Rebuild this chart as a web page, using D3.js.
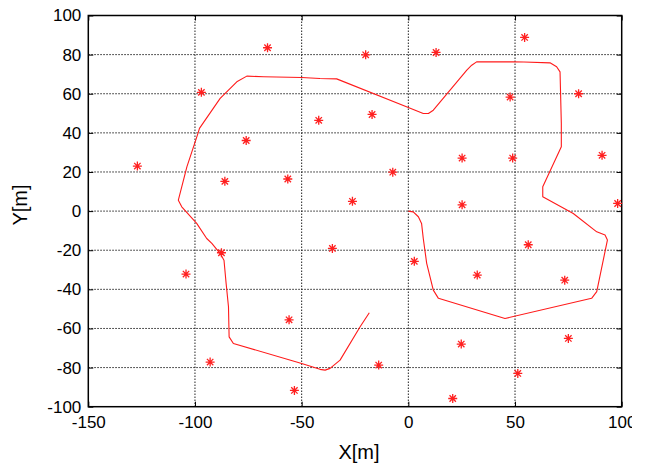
<!DOCTYPE html>
<html>
<head>
<meta charset="utf-8">
<script src="https://cdn.jsdelivr.net/npm/d3@7"></script>
<style>
  body { margin: 0; background: #fff; }
  svg { display: block; }
  .tick text { font-family: "Liberation Sans", Arial, sans-serif; font-size: 17px; fill: #000; }
  .axis-title { font-family: "Liberation Sans", Arial, sans-serif; font-size: 20px; fill: #000; }
</style>
</head>
<body>
<div id="chart"></div>
<script>
// tick labels
var xTicks = [-150, -100, -50, 0, 50, 100];
var yTicks = [-100, -80, -60, -40, -20, 0, 20, 40, 60, 80, 100];

// star markers
var pointX = [-127, -97, -66, -76, -86, -56.5, -42, -20, 13, 54.5, -17, 47.7, 79.8,
  25.2, 48.9, 90.8, -7.3, -26.2, 25.2, 98.1, -87.6, -104.2, -55.9, -92.9, -53.4,
  -35.6, 2.8, 32.3, 56.2, 73.3, 24.8, 75, -13.9, 51.3, 20.8];
var pointY = [23, 60.7, 83.5, 36.1, 15.2, 16.4, 46.4, 79.9, 81.1, 88.8, 49.4, 58.3, 60,
  27.1, 27.1, 28.5, 19.9, 5, 3.2, 3.9, -21.3, -32.2, -55.6, -77.2, -91.7,
  -19.1, -25.7, -32.7, -17.2, -35.3, -68, -65.1, -78.7, -83, -95.8];

// trajectory
var pathX = [0, 2.3, 4.7, 6.2, 7.0, 8.6, 11.7, 14.1, 45.3, 85.9, 88.3, 93.3, 92.2, 88.3,
  77.3, 63, 63, 71.7, 71.7, 71.1, 69.5, 66.4, 54.2, 48.9, 32.0, 29.7, 27.4, 11.7, 9.4,
  7.0, 0, -33.6, -41.4, -50, -67.9, -75.7, -80.4, -88.2, -97.9, -98.6, -103.8, -107.8,
  -106.2, -99.2, -94.5, -92.1, -88, -86.4, -85.4, -84.3, -84.0, -82.0, -50, -41.4, -39,
  -36.7, -32.0, -22.6, -18.3];
var pathY = [0, -0.4, -2.9, -6.3, -14, -26.7, -40.4, -44.6, -54.9, -44.6, -41.2, -14.8, -12.2, -10.6,
  -1.2, 7.3, 12.4, 32.9, 44.9, 71.2, 73.8, 75.8, 76.2, 76.3, 76.3, 74.6, 72.1, 51.6, 49.9,
  49.9, 53, 67.6, 67.8, 68.3, 68.7, 69.0, 66.1, 57.6, 42.3, 39.7, 22.6, 5.6,
  2.2, -6.3, -14.0, -16.5, -22, -25.1, -37.0, -48.9, -64.3, -67.7, -77.9, -80.9, -81.3,
  -80.4, -76.2, -59.1, -52.0];

var svgWidth = 632;
var svgHeight = 467;
var margin = { top: 15.5, right: 10.3, bottom: 60.3, left: 88.3 };
var width = svgWidth - margin.left - margin.right;
var height = svgHeight - margin.top - margin.bottom;

var svg = d3.select("#chart").append("svg")
  .attr("width", svgWidth)
  .attr("height", svgHeight);

var chartGroup = svg.append("g")
  .attr("transform", `translate(${margin.left}, ${margin.top})`);

var xScale = d3.scaleLinear().domain([-150, 100]).range([0, width]);
var yScale = d3.scaleLinear().domain([-100, 100]).range([height, 0]);

// dotted grid
chartGroup.append("g")
  .selectAll("line")
  .data(xTicks.slice(1, -1))
  .enter()
  .append("line")
  .attr("x1", d => xScale(d)).attr("x2", d => xScale(d))
  .attr("y1", 0).attr("y2", height)
  .attr("stroke", "#222")
  .attr("stroke-dasharray", "1.5,1.5");

chartGroup.append("g")
  .selectAll("line")
  .data(yTicks.slice(1, -1))
  .enter()
  .append("line")
  .attr("x1", 0).attr("x2", width)
  .attr("y1", d => yScale(d)).attr("y2", d => yScale(d))
  .attr("stroke", "#222")
  .attr("stroke-dasharray", "1.5,1.5");

// axes with inward ticks
var fmt = d => String(d);

var bottomAxis = d3.axisBottom(xScale).tickValues(xTicks).tickFormat(fmt).tickSizeInner(-5).tickSizeOuter(0).tickPadding(9);
var leftAxis = d3.axisLeft(yScale).tickValues(yTicks).tickFormat(fmt).tickSizeInner(-5).tickSizeOuter(0).tickPadding(7);
var topAxis = d3.axisTop(xScale).tickValues(xTicks).tickFormat("").tickSizeInner(-5).tickSizeOuter(0);
var rightAxis = d3.axisRight(yScale).tickValues(yTicks).tickFormat("").tickSizeInner(-5).tickSizeOuter(0);

chartGroup.append("g").attr("transform", `translate(0, ${height})`).call(bottomAxis);
chartGroup.append("g").call(leftAxis);
chartGroup.append("g").call(topAxis);
chartGroup.append("g").attr("transform", `translate(${width}, 0)`).call(rightAxis);

chartGroup.selectAll(".domain").remove();
chartGroup.selectAll(".tick line").attr("stroke", "#000");
chartGroup.selectAll(".tick text").attr("font-family", null).attr("font-size", null);

// frame
chartGroup.append("rect")
  .attr("width", width)
  .attr("height", height)
  .attr("fill", "none")
  .attr("stroke", "#000")
  .attr("stroke-width", 1.5);

// trajectory line
var pathData = pathX.map((x, i) => [x, pathY[i]]);
var line = d3.line()
  .x(d => xScale(d[0]))
  .y(d => yScale(d[1]));

chartGroup.append("path")
  .datum(pathData)
  .attr("d", line)
  .attr("fill", "none")
  .attr("stroke", "#ff1a1a")
  .attr("stroke-width", 1.1)
  .attr("stroke-linejoin", "round");

// asterisk markers
var star = "M0,-4.5V4.5M-4.5,0H4.5M-3.2,-3.2L3.2,3.2M-3.2,3.2L3.2,-3.2";
chartGroup.selectAll(".star")
  .data(pointX)
  .enter()
  .append("path")
  .attr("class", "star")
  .attr("transform", (d, i) => `translate(${xScale(d)}, ${yScale(pointY[i])})`)
  .attr("d", star)
  .attr("fill", "none")
  .attr("stroke", "#ff2020")
  .attr("stroke-width", 1.3);

// axis titles
svg.append("text")
  .attr("class", "axis-title")
  .attr("x", 359)
  .attr("y", 459)
  .attr("text-anchor", "middle")
  .text("X[m]");

svg.append("text")
  .attr("class", "axis-title")
  .attr("transform", "translate(27, 205) rotate(-90)")
  .attr("text-anchor", "middle")
  .text("Y[m]");
</script>
</body>
</html>
